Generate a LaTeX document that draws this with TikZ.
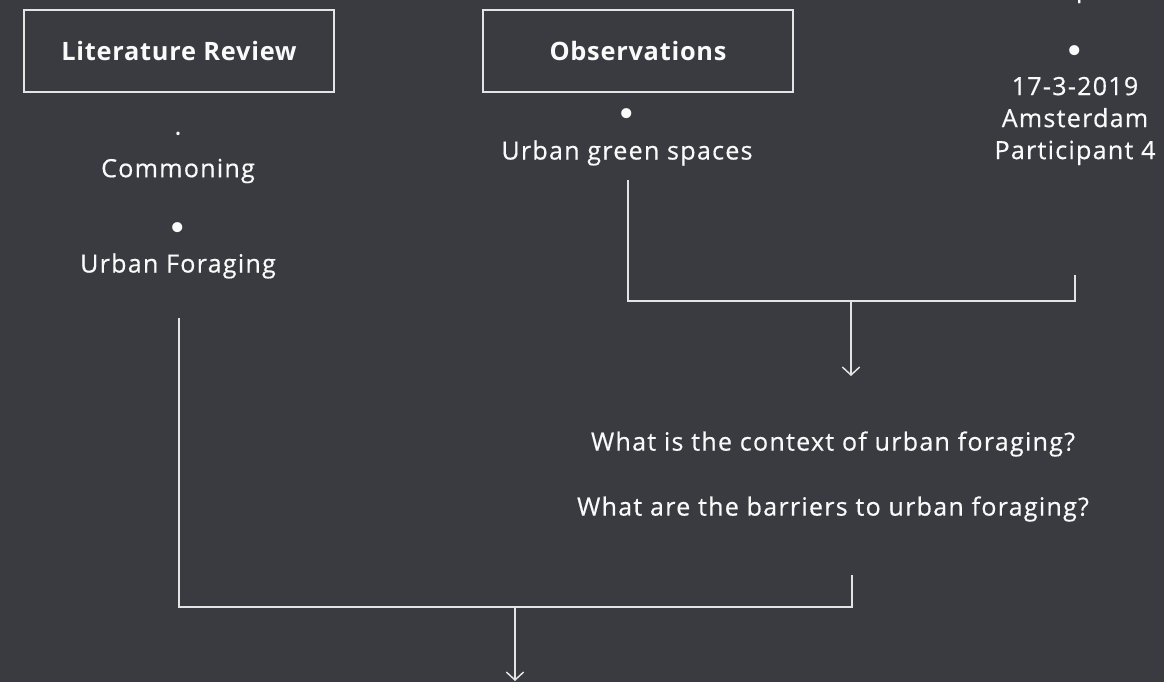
\documentclass[tikz,border=0pt]{standalone}
\usepackage{fontspec}
\setmainfont{Open Sans}[LetterSpace=3]
\newfontfamily\bodyfont{Open Sans}[LetterSpace=5,FakeBold=0.5]
\newfontfamily\dotfont{DejaVu Sans}
\usetikzlibrary{arrows.meta}
\definecolor{bg}{RGB}{58,59,64}
\definecolor{ink}{RGB}{250,250,250}
\definecolor{rule}{RGB}{228,228,228}
\begin{document}
\begin{tikzpicture}[x=0.75pt,y=-0.75pt,
  txt/.style={text=ink,font=\bodyfont\fontsize{18.8}{24}\selectfont,inner sep=0pt},
  bul/.style={text=ink,font=\dotfont\fontsize{26}{28}\selectfont,inner sep=0pt},
  head/.style={draw=rule,line width=1.1pt,text=ink,
    font=\bfseries\fontsize{19}{23}\selectfont,
    minimum width=232.5pt,minimum height=61.5pt,inner sep=0pt},
  wire/.style={draw=rule,line width=1.1pt},
  flow/.style={wire,-{Straight Barb[length=6pt,width=13pt,line width=1.1pt]}}]

% canvas
\fill[bg] (0,0) rectangle (1164,682);
\useasboundingbox (0,0) rectangle (1164,682);

% headers
\node[head] (lit) at (179,51) {Literature Review};
\node[head] (obs) at (638,51) {\raisebox{-3.5pt}{Observations}};

% left column
\node[txt] (dot1) at (178,137) {·};
\node[txt] (com) at (178,171) {Commoning};
\node[bul] (dot2) at (178,232) {•};
\node[txt] (uf) at (178,266) {Urban Foraging};

% middle column
\node[bul] (dot3) at (627,118) {•};
\node[txt] (ugs) at (627,153) {Urban green spaces};

% right column
\begin{scope}
  \clip (0,0) rectangle (1164,682);
  \node[txt,anchor=base] (prev) at (1075,-3) {Participant 3};
\end{scope}
\node[bul] (dot4) at (1075,55) {•};
\node[txt,align=center] (part) at (1075,121) {17-3-2019\\Amsterdam\\Participant 4};

% research questions
\node[txt] (q1) at (833,444) {What is the context of urban foraging?};
\node[txt] (q2) at (833,509) {What are the barriers to urban foraging?};

% upper bracket and arrow
\coordinate (ua) at (628,180);
\coordinate (ub) at (1075,275);
\coordinate (uj) at (851,301);
\coordinate (ut) at (851,376);
\draw[wire] (ua) |- (uj) -| (ub);
\draw[flow] (uj) -- (ut);

% lower bracket and arrow
\coordinate (la) at (179,318);
\coordinate (lb) at (852,575);
\coordinate (lj) at (515,607);
\coordinate (lt) at (515,681);
\draw[wire] (la) |- (lj) -| (lb);
\draw[flow] (lj) -- (lt);
\end{tikzpicture}
\end{document}
